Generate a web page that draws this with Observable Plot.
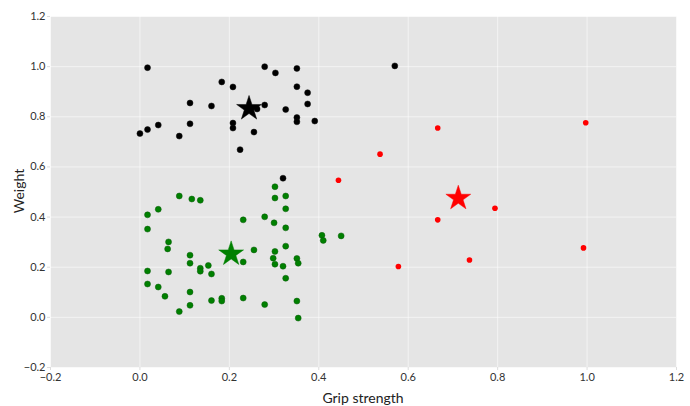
<!DOCTYPE html>
<html><head><meta charset="utf-8">
<script src="https://cdn.jsdelivr.net/npm/d3@7"></script>
<script src="https://cdn.jsdelivr.net/npm/@observablehq/plot@0.6"></script>
<style>
html,body{margin:0;padding:0;background:#fff;}
svg{font-family:Lato, "DejaVu Sans", sans-serif;}
</style>
</head><body><div id="chart"></div>
<script>
const blackX = [0.017,0.279,0.303,0.351,0.183,0.208,0.351,0.375,0.112,0.160,0.279,0.375,0.262,0.326,0.351,0.351,0.391,0.112,0.041,0.017,0.000,0.088,0.208,0.208,0.255,0.224,0.320,0.570];
const blackY = [0.996,1.000,0.975,0.993,0.939,0.919,0.920,0.896,0.855,0.843,0.847,0.851,0.831,0.829,0.797,0.780,0.783,0.772,0.767,0.749,0.733,0.723,0.775,0.755,0.739,0.669,0.555,1.003];
const greenX = [0.302,0.088,0.116,0.135,0.302,0.326,0.326,0.041,0.017,0.279,0.231,0.300,0.326,0.017,0.407,0.450,0.410,0.064,0.062,0.326,0.302,0.255,0.112,0.298,0.351,0.354,0.112,0.231,0.302,0.320,0.153,0.135,0.135,0.160,0.017,0.064,0.326,0.017,0.041,0.112,0.056,0.231,0.183,0.183,0.160,0.351,0.112,0.279,0.088,0.354];
const greenY = [0.521,0.484,0.472,0.467,0.476,0.484,0.433,0.431,0.409,0.401,0.389,0.377,0.357,0.352,0.327,0.325,0.307,0.301,0.273,0.284,0.263,0.269,0.248,0.236,0.235,0.216,0.216,0.221,0.212,0.204,0.207,0.196,0.184,0.173,0.185,0.181,0.156,0.133,0.121,0.101,0.084,0.077,0.076,0.065,0.067,0.065,0.048,0.051,0.023,-0.003];
const redX = [0.666,0.997,0.537,0.444,0.794,0.666,0.992,0.737,0.578];
const redY = [0.755,0.776,0.651,0.547,0.435,0.389,0.277,0.229,0.203];
const centroidX = [0.244,0.204,0.712];
const centroidY = [0.833,0.253,0.475];
const centroidColor = ["black","green","red"];
const xTicks = [-0.2,0.0,0.2,0.4,0.6,0.8,1.0,1.2];
const yTicks = [-0.2,0.0,0.2,0.4,0.6,0.8,1.0,1.2];

const toPts = (xs, ys) => xs.map((x, i) => ({x, y: ys[i]}));
const black = toPts(blackX, blackY);
const green = toPts(greenX, greenY);
const red = toPts(redX, redY);
const cents = centroidX.map((x, i) => ({x, y: centroidY[i], c: centroidColor[i]}));
const fmt = d3.format(".1f");

const plot = Plot.plot({
  width: 690, height: 406,
  marginLeft: 50, marginRight: 14, marginTop: 16, marginBottom: 39,
  style: {fontSize: "11px", fontFamily: "Lato, 'DejaVu Sans', sans-serif", color: "#333"},
  x: {domain: [-0.2, 1.2], ticks: xTicks, tickFormat: fmt, label: null},
  y: {domain: [-0.2, 1.2], ticks: yTicks, tickFormat: fmt, label: null},
  marks: [
    Plot.frame({fill: "#e5e5e5", stroke: "none"}),
    Plot.gridX(xTicks, {stroke: "white", strokeOpacity: 0.55, strokeWidth: 1}),
    Plot.gridY(yTicks, {stroke: "white", strokeOpacity: 0.55, strokeWidth: 1}),
    Plot.axisX(xTicks, {tickSize: 3, tickPadding: 3, stroke: "#ddd", tickFormat: fmt, label: null}),
    Plot.axisY(yTicks, {tickSize: 3, tickPadding: 2, stroke: "#ddd", tickFormat: fmt, label: null}),
    Plot.dot(black, {x: "x", y: "y", r: 3, fill: "black", stroke: "#111", strokeWidth: 0.5}),
    Plot.dot(green, {x: "x", y: "y", r: 3, fill: "green", stroke: "#0a5a0a", strokeWidth: 0.5}),
    Plot.dot(red, {x: "x", y: "y", r: 2.8, fill: "red"}),
    Plot.dot(cents, {x: "x", y: "y", symbol: "star", r: 7.8, fill: "c", stroke: "c", strokeWidth: 0.5})
  ]
});
const svg = d3.select(plot);
svg.append("text").attr("x", (50 + 676) / 2).attr("y", 403).attr("text-anchor", "middle")
  .style("font-size", "14px").style("fill", "#222").text("Grip strength");
svg.append("text").attr("transform", "translate(24,191) rotate(-90)").attr("text-anchor", "middle")
  .style("font-size", "14px").style("fill", "#222").text("Weight");
document.getElementById("chart").appendChild(plot);
</script>
</body></html>
